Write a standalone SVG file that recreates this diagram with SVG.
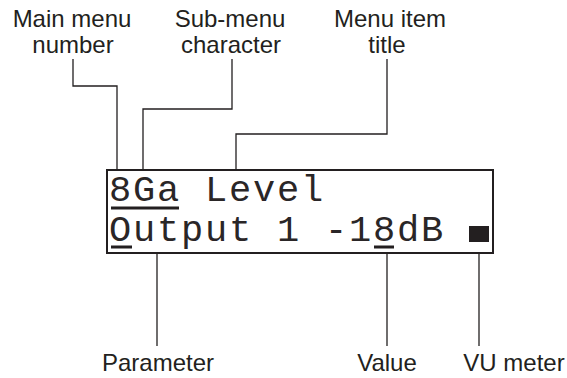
<svg xmlns="http://www.w3.org/2000/svg" width="567" height="378" viewBox="0 0 567 378">
<style>
.lbl{font-family:"Liberation Sans",Arial,sans-serif;font-size:24px;fill:#231f20;text-anchor:middle}
.lcd{font-family:"Liberation Mono","DejaVu Sans Mono",monospace;font-size:37px;letter-spacing:1.8px;fill:#2a2627}
.ldr{fill:none;stroke:#231f20;stroke-width:1.3}
.ul{fill:#231f20}
</style>
<rect width="567" height="378" fill="#fff"/>
<g id="connectors">
<polyline class="ldr" points="73,59 73,86 117,86 117,169"/>
<polyline class="ldr" points="232,59 232,109 143,109 143,169"/>
<polyline class="ldr" points="387,59 387,134 236,134 236,169"/>
<line class="ldr" x1="157" y1="254" x2="157" y2="346"/>
<line class="ldr" x1="387" y1="254" x2="387" y2="346"/>
<line class="ldr" x1="479" y1="254" x2="479" y2="346"/>
</g>
<g id="display">
<rect x="107" y="170" width="386" height="83" fill="#fff" stroke="#231f20" stroke-width="2"/>
<text class="lcd" x="109" y="201">8Ga Level</text>
<text class="lcd" x="109" y="241">Output 1 -18dB</text>
<rect class="ul" x="111" y="206.5" width="68" height="3"/>
<rect class="ul" x="111" y="245.5" width="21" height="3"/>
<rect class="ul" x="374" y="245.5" width="20" height="3"/>
<rect class="ul" x="469" y="226" width="20" height="16"/>
</g>
<g id="label-main-menu">
<text class="lbl" x="72" y="27">Main menu</text>
<text class="lbl" x="73" y="53">number</text>
</g>
<g id="label-sub-menu">
<text class="lbl" x="230" y="27">Sub-menu</text>
<text class="lbl" x="231" y="53">character</text>
</g>
<g id="label-menu-item">
<text class="lbl" x="390" y="27">Menu item</text>
<text class="lbl" x="387" y="53">title</text>
</g>
<g id="label-parameter">
<text class="lbl" x="158" y="371">Parameter</text>
</g>
<g id="label-value">
<text class="lbl" x="387" y="371">Value</text>
</g>
<g id="label-vu">
<text class="lbl" x="514" y="371">VU meter</text>
</g>
</svg>
